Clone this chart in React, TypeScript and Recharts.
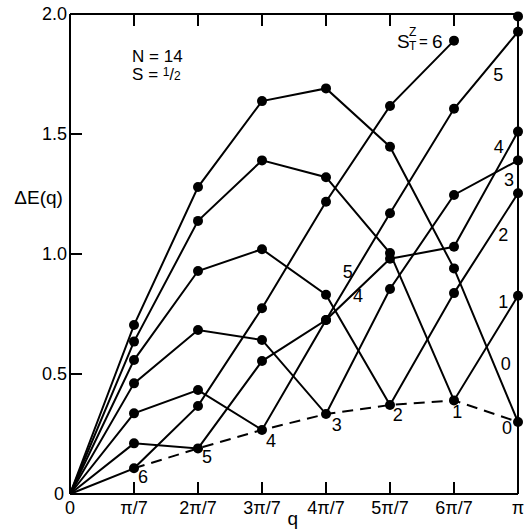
import React from 'react';
import { ComposedChart, Line, XAxis, YAxis, ReferenceDot } from 'recharts';

// q in units of pi/7
const qSteps = [0, 1, 2, 3, 4, 5, 6, 7];
const xTickLabels = ['0', 'π/7', '2π/7', '3π/7', '4π/7', '5π/7', '6π/7', 'π'];
const yTicks = [0, 0.5, 1, 1.5, 2];
const yTickLabels = ['0', '0.5', '1.0', '1.5', '2.0'];

// lowest excitation energy per S_T^z sector
const s0 = [0, 0.704, 1.279, 1.637, 1.69, 1.447, 0.94, 0.3];
const s1 = [0, 0.635, 1.138, 1.39, 1.32, 1.004, 0.39, 0.826];
const s2 = [0, 0.558, 0.929, 1.02, 0.83, 0.371, 0.837, 1.253];
const s3 = [0, 0.461, 0.683, 0.642, 0.333, 0.854, 1.246, 1.39];
const s4 = [0, 0.336, 0.433, 0.267, 0.725, 0.98, 1.03, 1.51];
const s5 = [0, 0.211, 0.19, 0.554, 0.725, 1.17, 1.605, 1.926];
const s6 = [0, 0.107, 0.367, 0.774, 1.218, 1.617, 1.889, null];
const s6End = [null, null, null, null, null, null, null, 1.99];
const ground = [null, 0.107, 0.19, 0.267, 0.333, 0.371, 0.39, 0.3];

const seriesKeys = ['s0', 's1', 's2', 's3', 's4', 's5', 's6'];
const seriesValues = [s0, s1, s2, s3, s4, s5, s6];

// labels along the dashed lower envelope
const groundLabels = [
  { q: 1.14, y: 0.071, t: '6' },
  { q: 2.14, y: 0.154, t: '5' },
  { q: 3.14, y: 0.221, t: '4' },
  { q: 4.17, y: 0.288, t: '3' },
  { q: 5.12, y: 0.329, t: '2' },
  { q: 6.05, y: 0.342, t: '1' },
  { q: 6.83, y: 0.275, t: '0' },
];
// labels next to the curves
const curveLabels = [
  { q: 4.34, y: 0.925, t: '5' },
  { q: 4.5, y: 0.825, t: '4' },
  { q: 6.69, y: 1.746, t: '5' },
  { q: 6.7, y: 1.446, t: '4' },
  { q: 6.86, y: 1.308, t: '3' },
  { q: 6.77, y: 1.079, t: '2' },
  { q: 6.77, y: 0.8, t: '1' },
  { q: 6.81, y: 0.54, t: '0' },
];

const data = qSteps.map((q, i) => {
  const row: any = { q, g: ground[i], s6e: s6End[i] };
  seriesKeys.forEach((k, j) => {
    row[k] = seriesValues[j][i];
  });
  return row;
});

const FONT = '"Liberation Sans", Arial, Helvetica, sans-serif';
const TICK = 12;
const SW = 2;

const BottomTick = (p: any) => {
  const { x, y, payload } = p;
  const v = payload.value;
  return (
    <g>
      {v > 0 && v < 7 && <line x1={x} y1={y} x2={x} y2={y - TICK} stroke="#000" strokeWidth={SW} />}
      <text x={x} y={y + 14} textAnchor="middle" dominantBaseline="central" fontSize={18} fontFamily={FONT} fill="#000">
        {xTickLabels[v]}
      </text>
    </g>
  );
};

const TopTick = (p: any) => {
  const { x, y, payload } = p;
  const v = payload.value;
  if (!(v > 0 && v < 7)) return <g />;
  return <line x1={x} y1={y} x2={x} y2={y + TICK} stroke="#000" strokeWidth={SW} />;
};

const LeftTick = (p: any) => {
  const { x, y, payload } = p;
  const v = payload.value;
  const idx = yTicks.indexOf(v);
  return (
    <g>
      {v > 0 && v < 2 && <line x1={x} y1={y} x2={x + TICK} y2={y} stroke="#000" strokeWidth={SW} />}
      <text x={v === 0 ? x - 6 : x - 3} y={y} textAnchor="end" dominantBaseline="central" fontSize={18} fontFamily={FONT} fill="#000">
        {yTickLabels[idx]}
      </text>
    </g>
  );
};

const RightTick = (p: any) => {
  const { x, y, payload } = p;
  const v = payload.value;
  if (!(v > 0 && v < 2)) return <g />;
  return <line x1={x} y1={y} x2={x - TICK} y2={y} stroke="#000" strokeWidth={SW} />;
};

const renderDot = (p: any) => {
  const { cx, cy, index, dataKey } = p;
  const k = `dot-${dataKey}-${index}`;
  if (cx == null || cy == null || Number.isNaN(cy) || index === 0) return <g key={k} />;
  return <circle key={k} cx={cx} cy={cy} r={5} fill="#000" stroke="none" />;
};

const textShape = (t: string, size = 18, anchor: any = 'middle') => (p: any) => (
  <text x={p.cx} y={p.cy} textAnchor={anchor} dominantBaseline="central" fontSize={size} fontFamily={FONT} fill="#000">
    {t}
  </text>
);

const sTzShape = (p: any) => {
  const x = p.cx;
  const y = p.cy;
  return (
    <g fontFamily={FONT} fill="#000">
      <text x={x} y={y} dominantBaseline="central" fontSize={19}>S</text>
      <text x={x + 12} y={y - 9} dominantBaseline="central" fontSize={12}>Z</text>
      <text x={x + 12} y={y + 5} dominantBaseline="central" fontSize={12}>T</text>
      <text x={x + 22} y={y} dominantBaseline="central" fontSize={15}>=</text>
      <text x={x + 35} y={y} dominantBaseline="central" fontSize={19}>6</text>
    </g>
  );
};

const spinShape = (p: any) => (
  <text x={p.cx} y={p.cy} dominantBaseline="central" fontSize={17} fontFamily={FONT} fill="#000">
    S = <tspan fontSize={12} dy={-3}>1</tspan>
    <tspan fontSize={16} dy={2}>/</tspan>
    <tspan fontSize={12} dy={2}>2</tspan>
  </text>
);

export default function App() {
  return (
    <div style={{ position: 'absolute', left: 0, top: 0, width: 526, height: 531, background: '#fff' }}>
      <ComposedChart width={526} height={531} data={data} margin={{ top: 0, left: 0, right: 0, bottom: 0 }}>
        <XAxis
          dataKey="q"
          type="number"
          domain={[0, 7]}
          ticks={qSteps}
          interval={0}
          height={37}
          tickSize={0}
          tickMargin={0}
          tickLine={false}
          axisLine={{ stroke: '#000', strokeWidth: SW }}
          tick={BottomTick}
        />
        <XAxis
          xAxisId="top"
          orientation="top"
          dataKey="q"
          type="number"
          domain={[0, 7]}
          ticks={qSteps}
          interval={0}
          height={14}
          tickSize={0}
          tickMargin={0}
          tickLine={false}
          axisLine={{ stroke: '#000', strokeWidth: SW }}
          tick={TopTick}
        />
        <YAxis
          type="number"
          domain={[0, 2]}
          ticks={yTicks}
          interval={0}
          width={70}
          tickSize={0}
          tickMargin={0}
          tickLine={false}
          axisLine={{ stroke: '#000', strokeWidth: SW }}
          tick={LeftTick}
        />
        <YAxis
          yAxisId="right"
          orientation="right"
          type="number"
          domain={[0, 2]}
          ticks={yTicks}
          interval={0}
          width={8}
          tickSize={0}
          tickMargin={0}
          tickLine={false}
          axisLine={{ stroke: '#000', strokeWidth: SW }}
          tick={RightTick}
        />
        <Line
          dataKey="g"
          type="linear"
          stroke="#000"
          strokeWidth={SW}
          strokeDasharray="11 7"
          dot={false}
          activeDot={false}
          isAnimationActive={false}
        />
        {seriesKeys.map((k) => (
          <Line
            key={k}
            dataKey={k}
            type="linear"
            stroke="#000"
            strokeWidth={SW}
            dot={renderDot}
            activeDot={false}
            isAnimationActive={false}
          />
        ))}
        <Line dataKey="s6e" type="linear" stroke="none" dot={renderDot} activeDot={false} isAnimationActive={false} />
        {groundLabels.map((l, i) => (
          <ReferenceDot key={`gl${i}`} x={l.q} y={l.y} r={0} ifOverflow="visible" shape={textShape(l.t)} />
        ))}
        {curveLabels.map((l, i) => (
          <ReferenceDot key={`cl${i}`} x={l.q} y={l.y} r={0} ifOverflow="visible" shape={textShape(l.t)} />
        ))}
        <ReferenceDot x={0.97} y={1.821} r={0} ifOverflow="visible" shape={textShape('N = 14', 17, 'start')} />
        <ReferenceDot x={0.97} y={1.746} r={0} ifOverflow="visible" shape={spinShape} />
        <ReferenceDot x={5.11} y={1.8875} r={0} ifOverflow="visible" shape={sTzShape} />
        <ReferenceDot x={-0.49} y={1.2375} r={0} ifOverflow="visible" shape={textShape('ΔE(q)', 19)} />
        <ReferenceDot x={3.48} y={-0.1} r={0} ifOverflow="visible" shape={textShape('q', 19)} />
      </ComposedChart>
    </div>
  );
}
